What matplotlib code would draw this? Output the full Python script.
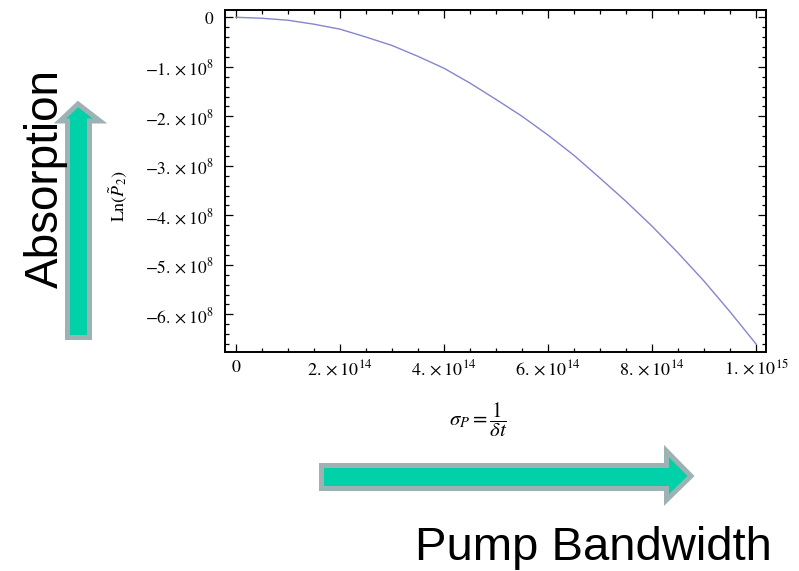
import matplotlib
matplotlib.use("Agg")
import matplotlib.pyplot as plt
from matplotlib.patches import Polygon
from matplotlib.ticker import MultipleLocator, FixedLocator, FixedFormatter

# ---- data ----
sigma_p = [0.0, 0.5e14, 1e14, 1.5e14, 2e14, 2.5e14, 3e14, 3.5e14, 4e14, 4.5e14,
           5e14, 5.5e14, 6e14, 6.5e14, 7e14, 7.5e14, 8e14, 8.5e14, 9e14,
           9.5e14, 1e15]
ln_p2 = [0.0, -0.02e8, -0.06e8, -0.14e8, -0.24e8, -0.40e8, -0.57e8, -0.79e8,
         -1.03e8, -1.33e8, -1.66e8, -2.00e8, -2.38e8, -2.79e8, -3.25e8,
         -3.72e8, -4.22e8, -4.76e8, -5.33e8, -5.95e8, -6.60e8]

x_ticks = [0, 2e14, 4e14, 6e14, 8e14, 1e15]
x_tick_labels = [r"$0$", r"$2.\times10^{14}$", r"$4.\times10^{14}$",
                 r"$6.\times10^{14}$", r"$8.\times10^{14}$", r"$1.\times10^{15}$"]
y_ticks = [0, -1e8, -2e8, -3e8, -4e8, -5e8, -6e8]
y_tick_labels = [r"$0$", r"$-1.\times10^{8}$", r"$-2.\times10^{8}$",
                 r"$-3.\times10^{8}$", r"$-4.\times10^{8}$", r"$-5.\times10^{8}$",
                 r"$-6.\times10^{8}$"]

plt.rcParams['mathtext.fontset'] = 'stix'
plt.rcParams['font.family'] = ['Liberation Sans', 'DejaVu Sans']

W, H = 799, 571
fig = plt.figure(figsize=(W / 100, H / 100), dpi=100)

def fx(px):
    return px / W

def fy(py):
    return 1 - py / H

# axes frame in pixels: left 225, right 766, top 10, bottom 352
ax = fig.add_axes([fx(225), fy(352), (766 - 225) / W, (352 - 10) / H])
ax.plot(sigma_p, ln_p2, color='#8585d0', lw=1.0)
ax.set_xlim(-0.0212e15, 1.019e15)
ax.set_ylim(-6.76e8, 0.147e8)

ax.xaxis.set_major_locator(FixedLocator(x_ticks))
ax.xaxis.set_major_formatter(FixedFormatter(x_tick_labels))
ax.yaxis.set_major_locator(FixedLocator(y_ticks))
ax.yaxis.set_major_formatter(FixedFormatter(y_tick_labels))
ax.xaxis.set_minor_locator(MultipleLocator(0.5e14))
ax.yaxis.set_minor_locator(MultipleLocator(0.2e8))

for s in ax.spines.values():
    s.set_linewidth(1.4)
    s.set_color('black')
ax.tick_params(which='both', direction='in', top=True, right=True, width=0.9, color='black')
ax.tick_params(which='major', length=5.5)
ax.tick_params(which='minor', length=3)
ax.tick_params(axis='x', which='major', pad=5, labelsize=13)
ax.tick_params(axis='y', which='major', pad=8, labelsize=12.5)

fig.text(fx(118), fy(196), r"$\mathrm{Ln}(\tilde{P}_2)$", rotation=90,
         ha='center', va='center', fontsize=13)
fig.text(fx(478), fy(420), r"$\sigma_{P} = \dfrac{1}{\delta t}$",
         ha='center', va='center', fontsize=15)

green = '#00d1a9'
gray = '#9db2b2'
# vertical arrow (Absorption)
v_pts = [(67.5, 337.5), (89.5, 337.5), (89.5, 121), (100, 121), (78, 104),
         (60, 121), (67.5, 121)]
fig.patches.append(Polygon([(fx(x), fy(y)) for x, y in v_pts], closed=True,
                           transform=fig.transFigure, facecolor=green,
                           edgecolor=gray, lw=3.6, joinstyle='miter'))
# horizontal arrow (Pump Bandwidth)
h_pts = [(321.5, 465.5), (666.5, 465.5), (666.5, 451), (691, 476),
         (666.5, 500), (666.5, 488.5), (321.5, 488.5)]
fig.patches.append(Polygon([(fx(x), fy(y)) for x, y in h_pts], closed=True,
                           transform=fig.transFigure, facecolor=green,
                           edgecolor=gray, lw=3.6, joinstyle='miter'))

fig.text(fx(46), fy(179), "Absorption", rotation=90, ha='center', va='center',
         fontsize=33, family=['Liberation Sans', 'DejaVu Sans'])
fig.text(fx(415), fy(560), "Pump Bandwidth", ha='left', va='baseline',
         fontsize=34, family=['Liberation Sans', 'DejaVu Sans'])

fig.savefig("out.png", dpi=100)
